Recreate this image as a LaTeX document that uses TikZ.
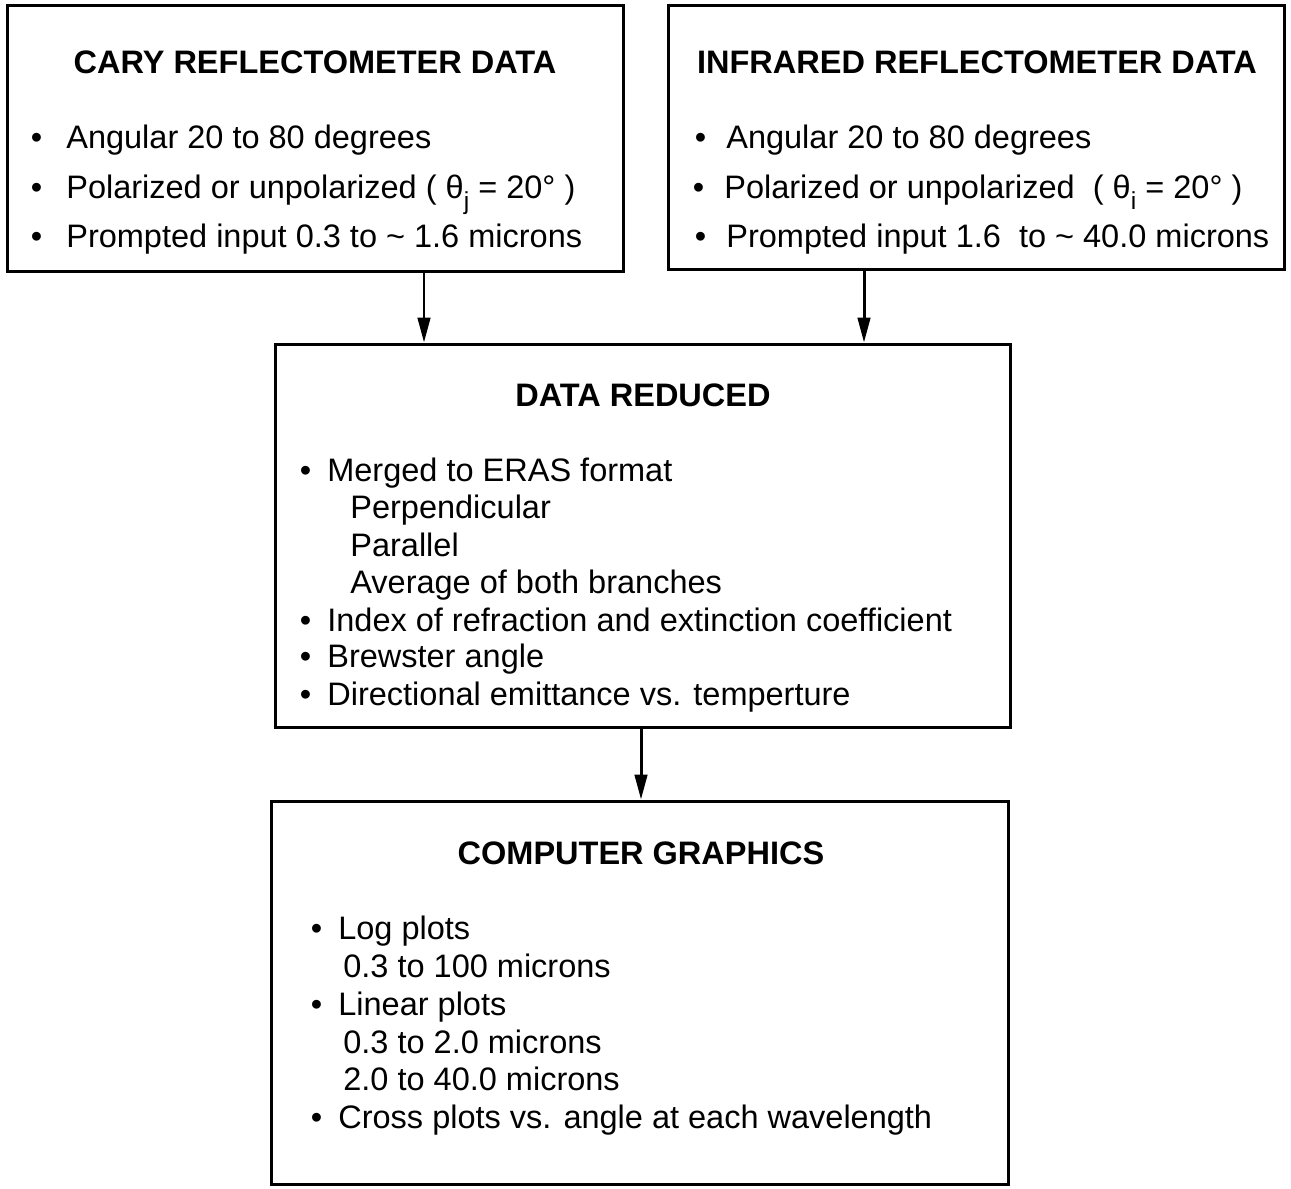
\documentclass[tikz,border=0pt]{standalone}
\usepackage{fontspec}
\setmainfont{Liberation Sans}
\usetikzlibrary{arrows.meta, positioning}
\tikzset{
    box/.style={rectangle, draw, line width=1.7pt, inner sep=0pt},
    boxtitle/.style={anchor=base, inner sep=0pt, font=\fontsize{18.5}{22}\selectfont\bfseries},
    txt/.style={anchor=base west, inner sep=0pt, font=\fontsize{18.5}{22}\selectfont},
    arrow/.style={-{Triangle[length=0.5cm, width=0.25cm]}, line width=1.7pt},
}
\newcommand{\blt}[1][0.45cm]{\llap{\textbullet\hspace{#1}}}
\newcommand{\sbs}[1]{\raisebox{-0.35em}{\fontsize{14}{14}\selectfont #1}}

\begin{document}
\begin{tikzpicture}[x=0.02cm, y=-0.02cm]
    \useasboundingbox (0,0) rectangle (1291,1188);

    % ── BOXES ──
    \node[box, minimum width=12.34cm, minimum height=5.34cm] (cary) at (315.5,138.5) {};
    \node[box, minimum width=12.34cm, minimum height=5.30cm] (ir)   at (976.5,137.5) {};
    \node[box, minimum width=14.72cm, minimum height=7.68cm] (red)  at (643,536) {};
    \node[box, minimum width=14.76cm, minimum height=7.68cm] (gfx)  at (640,993) {};

    % ── CARY ──
    \node[boxtitle] (caryt) at (315,73) {CARY REFLECTOMETER DATA};
    \node[txt] (c1) at (66,148) {\blt[0.48cm]Angular 20 to 80 degrees};
    \node[txt] (c2) at (66,198) {\blt[0.48cm]Polarized or unpolarized ( θ\sbs{j} = 20° )};
    \node[txt] (c3) at (66,247) {\blt[0.48cm]Prompted input 0.3 to \textasciitilde\ 1.6 microns};

    % ── INFRARED ──
    \node[boxtitle] (irt) at (977,73) {INFRARED REFLECTOMETER DATA};
    \node[txt] (i1) at (726,148) {\blt[0.4cm]Angular 20 to 80 degrees};
    \node[txt] (i2) at (724,198) {\blt[0.4cm]Polarized or unpolarized \ ( θ\sbs{i} = 20° )};
    \node[txt] (i3) at (726,247) {\blt[0.4cm]Prompted input 1.6 \ to \textasciitilde\ 40.0 microns};

    % ── DATA REDUCED ──
    \node[boxtitle] (redt) at (643,406) {DATA REDUCED};
    \node[txt] (r1) at (327,481) {\blt[0.32cm]Merged to ERAS format};
    \node[txt] (r2) at (350,518) {Perpendicular};
    \node[txt] (r3) at (350,556) {Parallel};
    \node[txt] (r4) at (350,593) {Average of both branches};
    \node[txt] (r5) at (327,631) {\blt[0.32cm]Index of refraction and extinction coefficient};
    \node[txt] (r6) at (327,667) {\blt[0.32cm]Brewster angle};
    \node[txt] (r7) at (327,705) {\blt[0.32cm]Directional emittance vs. temperture};

    % ── COMPUTER GRAPHICS ──
    \node[boxtitle] (gfxt) at (641,864) {COMPUTER GRAPHICS};
    \node[txt] (g1) at (338,939)  {\blt[0.32cm]Log plots};
    \node[txt] (g2) at (343,977)  {0.3 to 100 microns};
    \node[txt] (g3) at (338,1015) {\blt[0.32cm]Linear plots};
    \node[txt] (g4) at (343,1053) {0.3 to 2.0 microns};
    \node[txt] (g5) at (343,1090) {2.0 to 40.0 microns};
    \node[txt] (g6) at (338,1128) {\blt[0.32cm]Cross plots vs. angle at each wavelength};

    % ── ARROWS ──
    \coordinate (a1) at (424,0);
    \coordinate (a2) at (864,0);
    \coordinate (a3) at (641,0);
    \draw[arrow] (cary.south -| a1) -- (red.north -| a1);
    \draw[arrow] (ir.south -| a2) -- (red.north -| a2);
    \draw[arrow] (red.south -| a3) -- (gfx.north -| a3);

\end{tikzpicture}
\end{document}
